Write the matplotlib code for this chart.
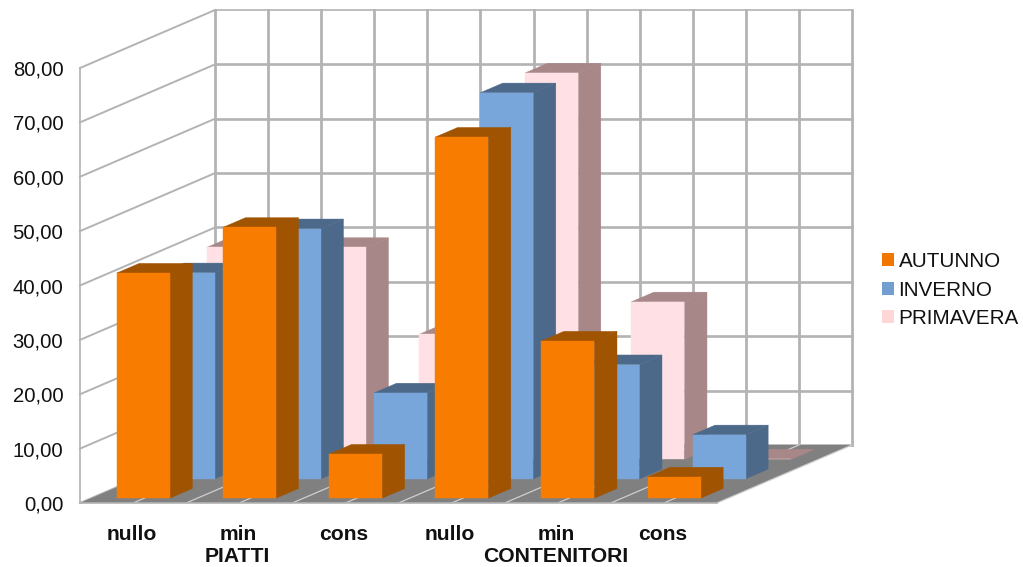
import matplotlib
matplotlib.use("Agg")
import matplotlib.pyplot as plt
from matplotlib.patches import Polygon, Patch

plt.rcParams['font.family'] = ['Liberation Sans', 'DejaVu Sans']

categories = ["nullo", "min", "cons", "nullo", "min", "cons"]
groups = ["PIATTI", "CONTENITORI"]
group_positions = [1.5, 4.5]
series_names = ["AUTUNNO", "INVERNO", "PRIMAVERA"]

autunno = [41.4, 49.8, 8.1, 66.4, 28.9, 3.9]
inverno = [37.9, 46.0, 15.8, 71.0, 21.0, 8.1]
primavera = [39.0, 39.0, 23.0, 71.1, 29.0, 0.1]
series_values = [autunno, inverno, primavera]

y_ticks = [0, 10, 20, 30, 40, 50, 60, 70, 80]
y_labels = ["%.2f" % v for v in y_ticks]
y_labels = [s.replace(".", ",") for s in y_labels]

# front, top and side colour of each series
front_colors = ["#F87C00", "#78A6DA", "#FFE0E4"]
side_colors = ["#A05300", "#4C698A", "#A88789"]
legend_colors = ["#F07800", "#729FCF", "#FFD7D7"]

grid_color = "#B3B3B3"
floor_color = "#808080"
floor_line = "#CFCFCF"

# oblique shift of the whole depth of the box, in category and value units
depth_dx = 1.2716
depth_dy = 10.667
n_cat = len(categories)
n_depth = len(series_names)


def project(cat, depth, val):
    # depth runs from 0 at the front to 1 at the back wall
    return (cat + depth * depth_dx, val + depth * depth_dy)


def bar_faces(ax, cat, slot, value, front, side):
    x0, x1 = cat + 0.24, cat + 0.74
    d0, d1 = (slot + 0.25) / n_depth, (slot + 0.75) / n_depth
    # right side first, then top, front face last
    ax.add_patch(Polygon([project(x1, d0, 0), project(x1, d1, 0), project(x1, d1, value), project(x1, d0, value)],
                         fc=side, ec=side, lw=0.3, clip_on=False, zorder=5 + n_depth - slot))
    ax.add_patch(Polygon([project(x0, d0, value), project(x0, d1, value), project(x1, d1, value), project(x1, d0, value)],
                         fc=side, ec=side, lw=0.3, clip_on=False, zorder=5 + n_depth - slot))
    ax.add_patch(Polygon([project(x0, d0, 0), project(x1, d0, 0), project(x1, d0, value), project(x0, d0, value)],
                         fc=front, ec=front, lw=0.3, clip_on=False, zorder=5 + n_depth - slot))


fig = plt.figure(figsize=(10.23, 5.67), dpi=100)
# axes is the front plane of the box
ax = fig.add_axes([80 / 1023, (567 - 503) / 567, 637 / 1023, 435 / 567])
ax.set_xlim(0, n_cat)
ax.set_ylim(0, 80)
for s in ax.spines.values():
    s.set_visible(False)
ax.patch.set_visible(False)

# back wall
for v in y_ticks:
    lw = 1.2 if v == 80 else 1.9
    p0, p1 = project(0, 1, v), project(n_cat, 1, v)
    ax.plot([p0[0], p1[0]], [p0[1], p1[1]], color=grid_color, lw=lw, clip_on=False, zorder=1)
for k in range(2 * n_cat + 1):
    p0, p1 = project(k / 2, 1, 0), project(k / 2, 1, 80)
    ax.plot([p0[0], p1[0]], [p0[1], p1[1]], color=grid_color, lw=2.0, clip_on=False, zorder=1)

# left wall
for v in y_ticks:
    p0, p1 = project(0, 0, v), project(0, 1, v)
    ax.plot([p0[0], p1[0]], [p0[1], p1[1]], color=grid_color, lw=1.4, clip_on=False, zorder=1)
ax.plot([0, 0], [0, 80], color=grid_color, lw=1.2, clip_on=False, zorder=1)

# floor
ax.add_patch(Polygon([project(0, 0, 0), project(n_cat, 0, 0), project(n_cat, 1, 0), project(0, 1, 0)],
                     fc=floor_color, ec="none", clip_on=False, zorder=2))
for k in range(1, 2 * n_cat + 1):
    p0, p1 = project(k / 2, 0, 0), project(k / 2, 1, 0)
    ax.plot([p0[0], p1[0]], [p0[1], p1[1]], color=floor_line, lw=0.9, clip_on=False, zorder=3)
ax.plot([0, n_cat], [0, 0], color=grid_color, lw=1.2, clip_on=False, zorder=3)

# back series first so the front ones cover them
for slot in range(n_depth - 1, -1, -1):
    for i in range(n_cat):
        bar_faces(ax, i, slot, series_values[slot][i], front_colors[slot], side_colors[slot])

ax.set_yticks(y_ticks)
ax.set_yticklabels(y_labels, fontsize=14.6, color="#111111")
ax.set_xticks([i + 0.486 for i in range(n_cat)])
ax.set_xticklabels(categories, fontsize=15.2, fontweight="bold", color="#111111")
ax.tick_params(axis="y", length=0, pad=12)
ax.tick_params(axis="x", length=0, pad=16)

for name, pos in zip(groups, group_positions):
    ax.annotate(name, xy=(pos, 0), xycoords=ax.get_xaxis_transform(), xytext=(-2, -54),
                textcoords="offset pixels", ha="center", va="center",
                fontsize=15.2, fontweight="bold", color="#111111")

handles = [Patch(fc=c, ec="none") for c in legend_colors]
fig.legend(handles, series_names, loc="center left", bbox_to_anchor=(881.5 / 1023, 1 - 290 / 567),
           frameon=False, fontsize=14.9, handlelength=0.6, handleheight=0.6,
           handletextpad=0.22, labelspacing=0.46, borderpad=0, borderaxespad=0,
           labelcolor="#111111")

fig.savefig("out.png", dpi=100)
